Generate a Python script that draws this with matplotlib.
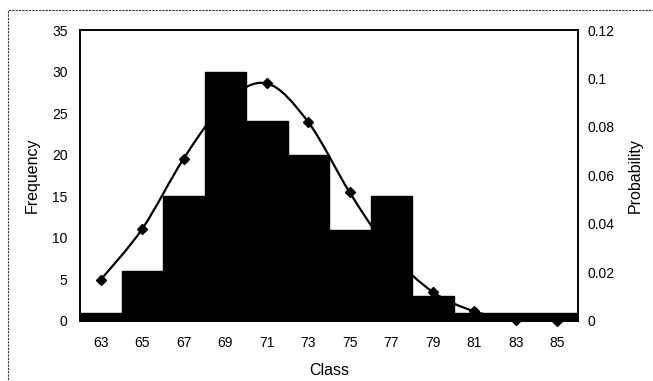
import numpy as np
import matplotlib
matplotlib.use("Agg")
import matplotlib.pyplot as plt
from matplotlib.path import Path
from matplotlib.patches import PathPatch, Rectangle

plt.rcParams['font.family'] = ['Liberation Sans', 'DejaVu Sans']

# class midpoints, observed counts and fitted probabilities
classes = [63, 65, 67, 69, 71, 73, 75, 77, 79, 81, 83, 85]
frequency = [1, 6, 15, 30, 24, 20, 11, 15, 3, 1, 1, 1]
probability = [0.017, 0.038, 0.067, 0.090, 0.098, 0.082, 0.053, 0.028,
               0.012, 0.004, 0.0005, 0.0]
freq_ticks = [0, 5, 10, 15, 20, 25, 30, 35]
prob_ticks = [0, 0.02, 0.04, 0.06, 0.08, 0.1, 0.12]
prob_labels = ['0', '0.02', '0.04', '0.06', '0.08', '0.1', '0.12']

W, H = 653, 381
fig = plt.figure(figsize=(W / 100, H / 100), dpi=100)
ax = fig.add_axes([80 / W, 1 - 321 / H, (578 - 80) / W, (321 - 30) / H])
ax2 = ax.twinx()

# outer dashed frame
fig.patches.append(Rectangle((8 / W, -0.02), 1.0, 1 - 10 / H + 0.02,
                             transform=fig.transFigure, fill=False,
                             ls=(0, (2, 1)), lw=0.8, ec='#333333'))

ax.bar(classes, frequency, width=2, color='black', edgecolor='black', zorder=3)
ax.set_xlim(62, 86)
ax.set_ylim(0, 35)
ax.set_xticks(classes)
ax.set_yticks(freq_ticks)
ax.set_xlabel('Class', fontsize=11.5, labelpad=9)
ax.set_ylabel('Frequency', fontsize=11.5, labelpad=9)
ax.tick_params(length=0, labelsize=10, pad=9)
ax.tick_params(axis='x', pad=11)

# smoothed probability curve (Catmull-Rom as cubic Bezier segments)
x = np.array(classes, float)
y = np.array(probability, float)
verts = [(x[0], y[0])]
codes = [Path.MOVETO]
for i in range(len(x) - 1):
    p0 = (x[max(i - 1, 0)], y[max(i - 1, 0)])
    p1 = (x[i], y[i])
    p2 = (x[i + 1], y[i + 1])
    p3 = (x[min(i + 2, len(x) - 1)], y[min(i + 2, len(x) - 1)])
    c1 = (p1[0] + (p2[0] - p0[0]) / 6, p1[1] + (p2[1] - p0[1]) / 6)
    c2 = (p2[0] - (p3[0] - p1[0]) / 6, p2[1] - (p3[1] - p1[1]) / 6)
    verts += [c1, c2, p2]
    codes += [Path.CURVE4] * 3
ax2.add_patch(PathPatch(Path(verts, codes), fill=False, lw=1.6,
                        ec='black', zorder=2))
ax2.plot(classes, probability, ls='none', marker='D', ms=5.5,
         color='black', zorder=2, clip_on=False)
ax2.set_ylim(0, 0.12)
ax2.set_yticks(prob_ticks)
ax2.set_yticklabels(prob_labels)
ax2.set_ylabel('Probability', fontsize=11.5, labelpad=9)
ax2.tick_params(length=0, labelsize=10, pad=7)

ax.set_zorder(ax2.get_zorder() + 1)
ax.patch.set_visible(False)
for a in (ax, ax2):
    for s in a.spines.values():
        s.set_linewidth(1.2)

fig.savefig('out.png', dpi=100)
